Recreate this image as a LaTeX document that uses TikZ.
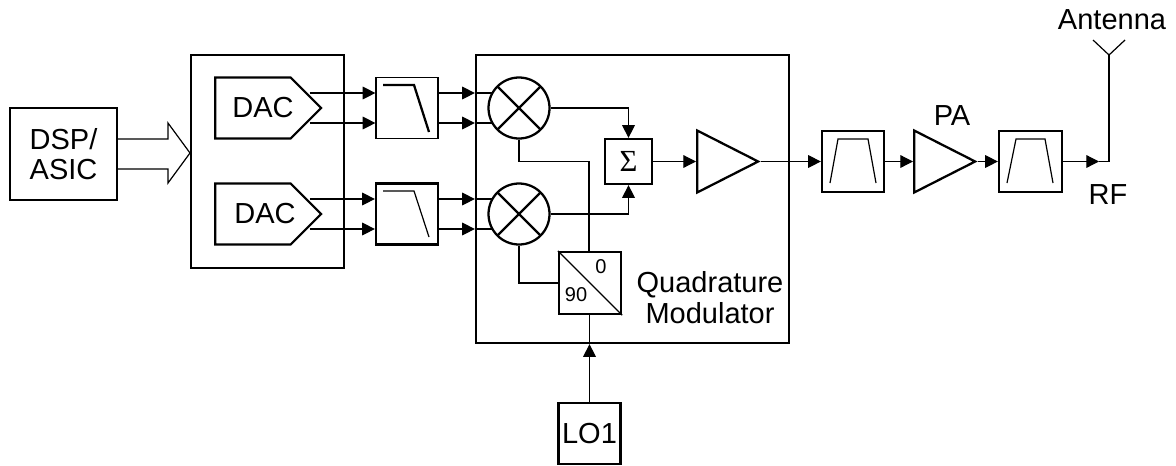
\documentclass[tikz,border=0pt]{standalone}
\usepackage{fontspec}
\setmainfont{Liberation Sans}
\newfontfamily\sumfont{Liberation Serif}
\usetikzlibrary{
  arrows.meta,
  shapes.geometric,
  shapes.symbols,
  calc
}

\begin{document}
\begin{tikzpicture}[x=0.75pt, y=-0.75pt,
    font=\fontsize{21.75}{23}\selectfont,
    wh/.style 2 args={minimum width=#1*0.75pt, minimum height=#2*0.75pt},
    heavybox/.style={draw, line width=1.7pt, inner sep=0pt, align=center},
    lightbox/.style={draw, line width=0.9pt, inner sep=0pt},
    dacbox/.style={heavybox, shape=signal, signal to=east, signal pointer angle=90, wh={106}{61}, anchor=west},
    mixer/.style={heavybox, circle, minimum size=61*0.75pt,
      path picture={
        \draw[line width=1.7pt] (path picture bounding box.north west) -- (path picture bounding box.south east);
        \draw[line width=1.7pt] (path picture bounding box.north east) -- (path picture bounding box.south west);
      }},
    amp/.style={heavybox, isosceles triangle, isosceles triangle stretches=true, wh={62}{61}, anchor=lower side},
    wire/.style={line width=0.9pt},
    sig/.style={wire, -{Triangle[length=9.5pt, width=9.5pt]}},
    plot/.style={line width=0.9pt},
  ]
  \useasboundingbox (0,0) rectangle (1176,465);

  \node[heavybox, wh={107}{92}] (dsp) at (63.5,154) {DSP/\\ASIC};
  \node[heavybox, wh={153}{213}] (dacblock) at (267.5,161.5) {};
  \node[dacbox] (dacA) at (214,108) {};
  \node[dacbox] (dacB) at (214,214) {};
  \node (dacAlabel) at (263,108) {DAC};
  \node (dacBlabel) at (265,214) {DAC};
  \node[lightbox, wh={62}{61}] (filtA) at (407,108) {};
  \node[heavybox, wh={62}{61}] (filtB) at (407,214) {};
  \node[heavybox, wh={313}{288}] (qmod) at (632.5,199) {};
  \node[mixer] (mixA) at (519,108) {};
  \node[mixer] (mixB) at (519,214) {};
  \node[heavybox, wh={47}{45}, font=\sumfont\fontsize{23}{23}\selectfont] (sum) at (628.5,161.5) {Σ};
  \node[amp] (drv) at (696,161.5) {};
  \node[heavybox, wh={62}{62}] (split) at (590,283) {};
  \node[font=\fontsize{15}{18}\selectfont] (zero) at (601,267) {0};
  \node[font=\fontsize{15}{18}\selectfont] (ninety) at (576,295) {90};
  \node[align=center] (qlabel) at (710,297.5) {Quadrature\\Modulator};
  \node[heavybox, wh={62}{61}] (lo) at (589.5,433.5) {LO1};
  \node[heavybox, wh={62}{61}] (filtC) at (853,161.5) {};
  \node[amp] (pa) at (913,161.5) {};
  \node[heavybox, wh={63}{61}] (filtD) at (1030.5,161.5) {};
  \node (palabel) at (952,116) {PA};
  \node (rflabel) at (1108,195) {RF};
  \node (antlabel) at (1112,20) {Antenna};
  \coordinate (rf) at (1109,161.5);
  \coordinate (ant) at (1109,55);

  \draw[wire] ([yshift=15*0.75pt]dsp.east) -- (168,139) -- (168,123) -- (190,153)
    -- (168,183) -- (168,169) -- ([yshift=-15*0.75pt]dsp.east);

  \foreach \dacname/\filtname/\mixname in {dacA/filtA/mixA, dacB/filtB/mixB} {
    \foreach \dy in {-15,15} {
      \draw[sig] ([shift={(-13,\dy)}]\dacname.east) -- ([shift={(0,\dy)}]\filtname.west);
      \draw[sig] ([shift={(0,\dy)}]\filtname.east) -- (qmod.west |- {$(\filtname.east)+(0,\dy)$});
      \draw[wire] (qmod.west |- {$(\filtname.east)+(0,\dy)$}) -- ([shift={(-27,\dy)}]\mixname.center);
    }
  }

  \draw[line width=1.7pt] (383,85) -- (414,85) -- (429,132);
  \draw[plot] (383,191) -- (414,191) -- (429,237);
  \draw[plot] (830,183) -- (838,139) -- (868,139) -- (876,183);
  \draw[plot] (1007,183) -- (1016,139) -- (1045,139) -- (1053,183);

  \draw[sig] (mixA.east) -| (sum.north);
  \draw[sig] (mixB.east) -| (sum.south);
  \draw[sig] (sum.east) -- (drv.lower side);
  \draw[wire] (mixA.south) |- (589,161.5) -- (split.north -| 589,0);
  \draw[wire] (mixB.south) |- (split.west);
  \draw[plot] (split.north west) -- (split.south east);
  \draw[sig] (lo.north) -- (qmod.south -| lo.north);
  \draw[wire] (qmod.south -| lo.north) -- (split.south -| lo.north);
  \draw[sig] (drv.apex) -- (filtC.west);
  \draw[sig] (filtC.east) -- (pa.lower side);
  \draw[sig] (pa.apex) -- (filtD.west);
  \draw[sig] (filtD.east) -- (1099,161.5);
  \draw[wire] (1099,161.5) -- (rf) -- (ant);
  \draw[wire] (1093,40) -- (ant) -- (1125,40);
\end{tikzpicture}
\end{document}
